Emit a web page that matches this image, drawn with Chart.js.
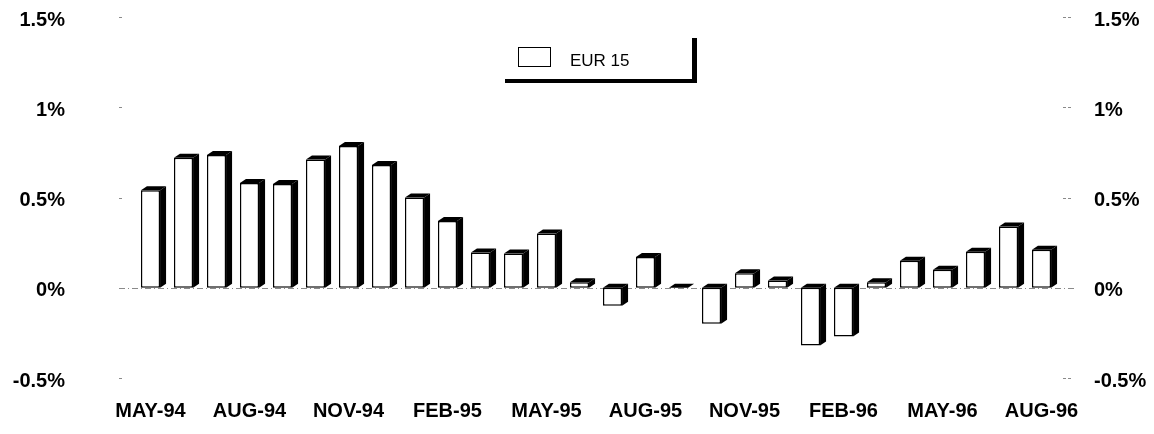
<!DOCTYPE html>
<html><head><meta charset="utf-8">
<script src="https://cdn.jsdelivr.net/npm/chart.js@4/dist/chart.umd.min.js"></script>
<style>html,body{margin:0;padding:0;background:#fff;overflow:hidden}#wrap{width:1154px;height:434px}</style>
</head><body><div id="wrap"><canvas id="c" width="1154" height="434"></canvas></div>
<script>
const categories = ['MAY-94','JUN-94','JUL-94','AUG-94','SEP-94','OCT-94','NOV-94','DEC-94','JAN-95','FEB-95','MAR-95','APR-95','MAY-95','JUN-95','JUL-95','AUG-95','SEP-95','OCT-95','NOV-95','DEC-95','JAN-96','FEB-96','MAR-96','APR-96','MAY-96','JUN-96','JUL-96','AUG-96'];
const seriesName = 'EUR 15';
const eur15 = [0.54,0.72,0.735,0.58,0.575,0.71,0.785,0.68,0.50,0.37,0.195,0.19,0.30,0.03,-0.10,0.17,0.0,-0.20,0.08,0.04,-0.32,-0.27,0.03,0.15,0.10,0.20,0.34,0.21];
const yTickValues = [-0.5,0,0.5,1,1.5];
const yTickLabels = ['-0.5%','0%','0.5%','1%','1.5%'];
const labelEvery = 3;

const FONT = '"Liberation Sans", Arial, Helvetica, sans-serif';

const tickLabel = v => { const i = yTickValues.findIndex(t => Math.abs(t - v) < 1e-9); return i >= 0 ? yTickLabels[i] : ''; };

const marksPlugin = {
  id: 'marks',
  beforeDatasetsDraw(chart) {
    const ctx = chart.ctx, ys = chart.scales.y;
    ctx.save();
    ctx.strokeStyle = '#8a8a8a';
    ctx.lineWidth = 1;
    yTickValues.forEach(v => {
      const y = Math.round(ys.getPixelForValue(v)) + 0.5;
      if (v === 0) {
        ctx.setLineDash([6, 3, 1, 3]);
        ctx.beginPath(); ctx.moveTo(119, y); ctx.lineTo(1076, y); ctx.stroke();
        ctx.setLineDash([]);
      } else {
        ctx.beginPath(); ctx.moveTo(119, y); ctx.lineTo(122, y); ctx.stroke();
        ctx.beginPath(); ctx.moveTo(1063, y); ctx.lineTo(1066, y); ctx.moveTo(1068, y); ctx.lineTo(1071, y); ctx.stroke();
      }
    });
    ctx.restore();
  }
};

const depthPlugin = {
  id: 'depth',
  afterDatasetsDraw(chart) {
    const ctx = chart.ctx;
    const meta = chart.getDatasetMeta(0);
    const dx = 6, dy = 4;
    ctx.save();
    ctx.fillStyle = '#000';
    meta.data.forEach(bar => {
      const p = bar.getProps(['x', 'y', 'base', 'width'], true);
      const l = p.x - p.width / 2, r = p.x + p.width / 2;
      const top = Math.min(p.y, p.base), bot = Math.max(p.y, p.base);
      ctx.beginPath();
      ctx.moveTo(l, top); ctx.lineTo(l + dx, top - dy); ctx.lineTo(r + dx, top - dy); ctx.lineTo(r, top); ctx.closePath(); ctx.fill();
      ctx.beginPath();
      ctx.moveTo(r, top); ctx.lineTo(r + dx, top - dy); ctx.lineTo(r + dx, bot - dy); ctx.lineTo(r, bot); ctx.closePath(); ctx.fill();
    });
    ctx.restore();
  }
};

const legendPlugin = {
  id: 'customLegend',
  afterDraw(chart) {
    const ctx = chart.ctx;
    ctx.save();
    ctx.fillStyle = '#000';
    ctx.fillRect(505, 79, 192, 4);
    ctx.fillRect(692, 38, 5, 45);
    ctx.fillStyle = '#fff';
    ctx.fillRect(518, 47, 32, 19);
    ctx.strokeStyle = '#000'; ctx.lineWidth = 1;
    ctx.strokeRect(518.5, 47.5, 32, 19);
    ctx.fillStyle = '#000';
    ctx.font = '17px ' + FONT;
    ctx.textBaseline = 'alphabetic';
    ctx.textAlign = 'left';
    ctx.fillText(chart.data.datasets[0].label, 570, 66);
    ctx.restore();
  }
};

const fitY = w => s => { s.width = w; s.paddingTop = 0; s.paddingBottom = 0; };

new Chart(document.getElementById('c'), {
  type: 'bar',
  data: {
    labels: categories,
    datasets: [{
      label: seriesName,
      data: eur15,
      backgroundColor: '#fff',
      borderColor: '#000',
      borderWidth: 1.5,
      borderSkipped: false,
      categoryPercentage: 1,
      barPercentage: 0.58
    }]
  },
  options: {
    responsive: false,
    devicePixelRatio: 1,
    animation: false,
    layout: { padding: { top: 17, left: 0, right: 0, bottom: 0 } },
    plugins: { legend: { display: false }, tooltip: { enabled: false }, title: { display: false } },
    scales: {
      x: {
        type: 'category',
        offset: true,
        grid: { display: false, drawTicks: false, tickLength: 0 },
        border: { display: false },
        afterFit: s => { s.height = 56; s.paddingLeft = 0; s.paddingRight = 0; },
        ticks: {
          autoSkip: false, maxRotation: 0, minRotation: 0, padding: 21,
          color: '#000', font: { family: FONT, size: 20, weight: 'bold' },
          callback: (v, i) => (i % labelEvery === 0 ? categories[i] : '')
        }
      },
      y: {
        position: 'left', min: -0.5, max: 1.5,
        grid: { display: false, drawTicks: false, tickLength: 0 },
        border: { display: false },
        afterFit: fitY(134),
        afterBuildTicks: s => { s.ticks = yTickValues.map(v => ({ value: v })); },
        ticks: { padding: 69, labelOffset: 3, color: '#000', font: { family: FONT, size: 20, weight: 'bold' }, callback: tickLabel }
      },
      y2: {
        position: 'right', min: -0.5, max: 1.5,
        grid: { display: false, drawTicks: false, tickLength: 0 },
        border: { display: false },
        afterFit: fitY(96),
        afterBuildTicks: s => { s.ticks = yTickValues.map(v => ({ value: v })); },
        ticks: { padding: 36, labelOffset: 3, color: '#000', font: { family: FONT, size: 20, weight: 'bold' }, callback: tickLabel }
      }
    }
  },
  plugins: [marksPlugin, depthPlugin, legendPlugin]
});
</script>
</body></html>
